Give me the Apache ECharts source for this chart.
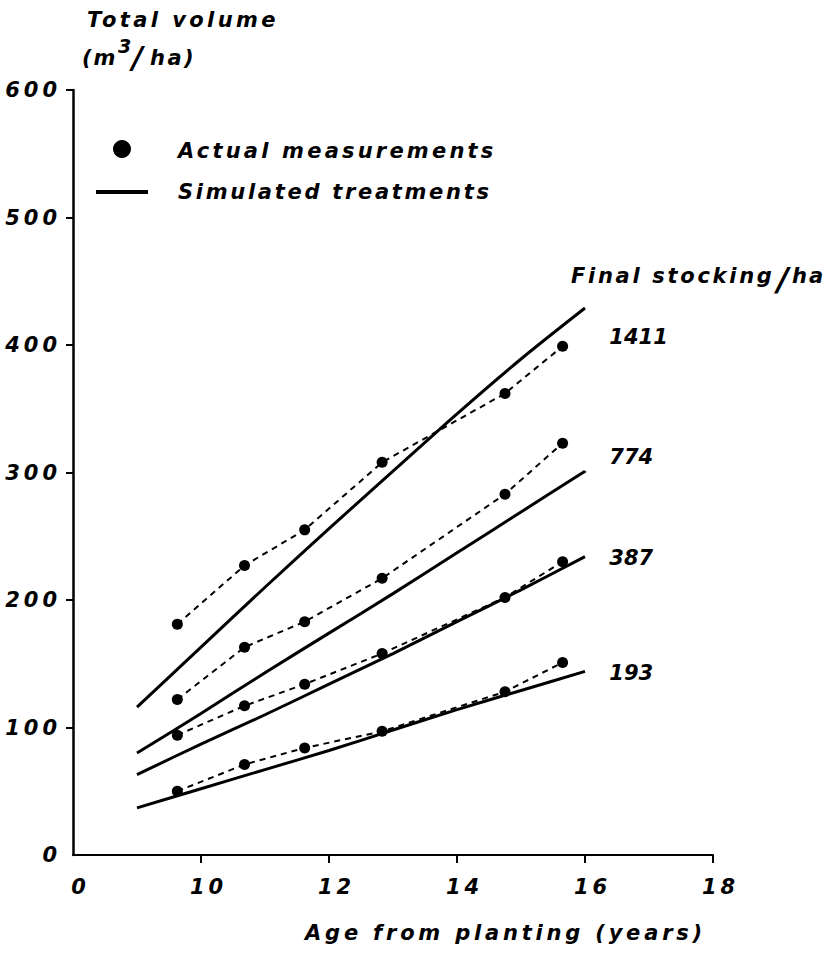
<!DOCTYPE html>
<html>
<head>
<meta charset="utf-8">
<script src="https://cdn.jsdelivr.net/npm/echarts@6/dist/echarts.min.js"></script>
<style>
  html, body { margin: 0; padding: 0; background: #fff; }
  #chart { width: 827px; height: 961px; }
</style>
</head>
<body>
<div id="chart"></div>
<script>
// Ages (years from planting) at which the plots were measured
const measuredAges = [9.63, 10.68, 11.62, 12.83, 14.75, 15.65];
// Measured total volume (m3/ha) for each final stocking
const measured1411 = [181, 227, 255, 308, 362, 399];
const measured774  = [122, 163, 183, 217, 283, 323];
const measured387  = [94, 117, 134, 158, 202, 230];
const measured193  = [50, 71, 84, 97, 128, 151];

// Simulated treatments, yearly
const simulatedAges = [9, 10, 11, 12, 13, 14, 15, 16];
const simulated1411 = [116, 163, 210, 256, 301, 346, 389, 429];
const simulated774  = [80, 111, 143, 174, 205, 237, 269, 301];
const simulated387  = [63, 87, 110, 134, 158, 183, 208, 234];
const simulated193  = [37, 52, 67, 82, 98, 114, 129, 144];

// Final stocking per hectare labels
const stockings = ['1411', '774', '387', '193'];

// Axis ticks
const xTicks = [8, 10, 12, 14, 16, 18];
const yTicks = [0, 100, 200, 300, 400, 500, 600];

const FONT = '"DejaVu Sans", "Liberation Sans", sans-serif';
const fontStyle = { fontFamily: FONT, fontWeight: 'bold', fontStyle: 'italic', color: '#000' };
const gfont = (size) => 'italic bold ' + size + 'px ' + FONT;

// extra tracking for the wide lettering
const TRACKING = {
  'Total volume': 3.4,
  '(m': 2,
  '3': 0,
  '/': 0,
  'ha)': 2.5,
  'Actual measurements': 3.2,
  'Simulated treatments': 2.7,
  'Final stocking': 2.7,
  'ha': 2,
  'Age from planting (years)': 3.8
};

const pairs = (xs, ys) => xs.map((x, i) => [x, ys[i]]);

const measuredSeries = [measured1411, measured774, measured387, measured193].map(vals => ({
  type: 'line',
  data: pairs(measuredAges, vals),
  symbol: 'circle',
  symbolSize: 11,
  showSymbol: true,
  itemStyle: { color: '#000', opacity: 1 },
  lineStyle: { color: '#000', width: 2, type: [6, 5] },
  z: 3,
  silent: true
}));

const simulatedSeries = [simulated1411, simulated774, simulated387, simulated193].map(vals => ({
  type: 'line',
  data: pairs(simulatedAges, vals),
  smooth: 0.3,
  symbol: 'none',
  lineStyle: { color: '#000', width: 3 },
  z: 2,
  silent: true
}));

// label anchors to the right of the line ends (age, volume level)
const labelAge = 16.38;
const labelLevels = [406, 312, 233, 143];

const labelSeries = {
  type: 'scatter',
  symbolSize: 0,
  silent: true,
  itemStyle: { opacity: 1 },
  data: stockings.map((s, i) => ({ name: s, value: [labelAge, labelLevels[i]] })),
  label: {
    show: true, position: 'right', distance: 0, formatter: '{b}', opacity: 1,
    fontSize: 21, ...fontStyle
  }
};

function gtext(text, x, y, size) {
  return {
    type: 'text', x: x, y: y, silent: true,
    style: {
      text: text, font: gfont(size), fill: '#000',
      align: 'left', textAlign: 'left', verticalAlign: 'middle', textVerticalAlign: 'middle'
    }
  };
}

const chart = echarts.init(document.getElementById('chart'), null, { renderer: 'svg' });

chart.setOption({
  animation: false,
  backgroundColor: '#fff',
  grid: { left: 73, right: 114, top: 90, bottom: 106, containLabel: false },
  xAxis: {
    type: 'value', min: 8, max: 18, interval: 2,
    splitLine: { show: false },
    axisLine: { show: true, onZero: false, lineStyle: { color: '#000', width: 2 } },
    axisTick: { show: true, inside: false, length: 8, lineStyle: { color: '#000', width: 2 },
                customValues: xTicks.slice(1) },
    axisLabel: {
      margin: 21, fontSize: 21, ...fontStyle, padding: [0, 0, 0, 15],
      customValues: xTicks,
      formatter: v => (v === 8 ? '0' : String(v))
    }
  },
  yAxis: {
    type: 'value', min: 0, max: 600, interval: 100,
    splitLine: { show: false },
    axisLine: { show: true, onZero: false, lineStyle: { color: '#000', width: 2.5 } },
    axisTick: { show: true, inside: false, length: 7, lineStyle: { color: '#000', width: 2 },
                customValues: yTicks.slice(1) },
    axisLabel: { margin: 12, fontSize: 21, ...fontStyle, customValues: yTicks }
  },
  series: [...simulatedSeries, ...measuredSeries, labelSeries],
  graphic: [
    gtext('Total volume', 87, 20, 21),
    gtext('(m', 82, 58, 21),
    gtext('3', 118, 46, 19),
    gtext('/', 132, 57, 30),
    gtext('ha)', 150, 58, 21),
    { type: 'circle', silent: true, shape: { cx: 122, cy: 149, r: 9 }, style: { fill: '#000' } },
    gtext('Actual measurements', 178, 151, 21),
    { type: 'line', silent: true, shape: { x1: 96, y1: 192, x2: 148, y2: 192 }, style: { stroke: '#000', lineWidth: 4 } },
    gtext('Simulated treatments', 178, 192, 21),
    gtext('Final stocking', 571, 276, 21),
    gtext('/', 777, 279, 32),
    gtext('ha', 792, 276, 21),
    gtext('Age from planting (years)', 305, 933, 21)
  ]
});

function applyTracking() {
  const texts = chart.getDom().querySelectorAll('svg text');
  texts.forEach(t => {
    const s = (t.textContent || '').trim();
    let ls;
    if (Object.prototype.hasOwnProperty.call(TRACKING, s)) ls = TRACKING[s];
    else if (/^\d+$/.test(s)) ls = stockings.includes(s) ? 0 : 4;
    if (ls) t.setAttribute('letter-spacing', ls + 'px');
  });
}
chart.on('finished', applyTracking);
applyTracking();
setTimeout(applyTracking, 50);
setTimeout(applyTracking, 300);
</script>
</body>
</html>
